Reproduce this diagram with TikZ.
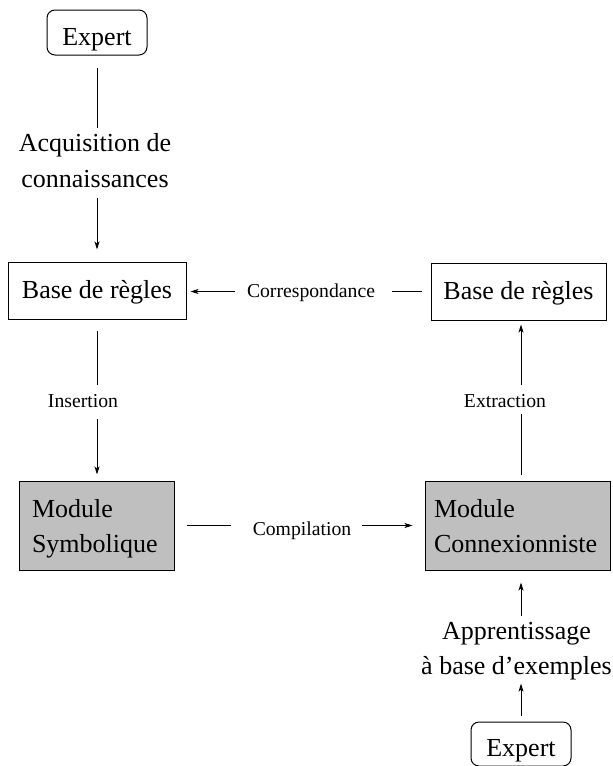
\documentclass[tikz,border=0pt]{standalone}
\usepackage{fontspec}
\setmainfont{Liberation Serif}
\usetikzlibrary{arrows.meta}
\begin{document}
\begin{tikzpicture}[x=1pt,y=-1pt,
  big/.style={font=\fontsize{26}{35.5}\selectfont},
  small/.style={font=\fontsize{19.7}{24}\selectfont, inner sep=0pt},
  box/.style={draw, line width=1pt, big, inner sep=0pt},
  rbox/.style={box, rounded corners=8pt, text height=25pt, text depth=0pt},
  bbox/.style={box, text height=21pt, text depth=5.6pt},
  mbox/.style={box, fill=gray!50, align=left},
  lab/.style={big, inner sep=0pt, align=center},
  conn/.style={line width=0.9pt},
  arr/.style={conn, -{Stealth[length=8pt,width=5pt,inset=2pt]}},
]
\useasboundingbox (0,0) rectangle (613,766);
% nodes
\node[rbox, minimum width=100pt, minimum height=45pt] (e1) at (97,32.5) {Expert};
\node[lab] (acq) at (95,160.5) {Acquisition de\\connaissances};
\node[bbox, minimum width=178pt, minimum height=57pt] (b1) at (97,290.5) {Base de règles};
\node[bbox, minimum width=175pt, minimum height=57pt] (b2) at (518.5,291.5) {Base de règles};
\node[small] (corr) at (311,292.4) {Correspondance};
\node[small] (ins) at (83,401.5) {Insertion};
\node[small] (ext) at (505,401.5) {Extraction};
\node[mbox, minimum width=155pt, minimum height=89pt, text width=129pt, inner xsep=13pt] (m1) at (96.5,525.5) {\rule{0pt}{24.4pt}Module\\Symbolique\rule[-5.6pt]{0pt}{5.6pt}};
\node[mbox, minimum width=185pt, minimum height=89pt, text width=167pt, inner xsep=9pt] (m2) at (517.5,525.5) {\rule{0pt}{24.4pt}Module\\Connexionniste\rule[-5.6pt]{0pt}{5.6pt}};
\node[small] (comp) at (302,530.4) {Compilation};
\node[lab] (app) at (516.5,651.3) {Apprentissage\\à base d’exemples};
\node[rbox, minimum width=100pt, minimum height=44pt] (e2) at (521,744) {Expert};
% connectors left column
\draw[conn, shorten <=12pt, shorten >=5pt] (e1.south) -- (e1.south |- acq.north);
\draw[arr, shorten <=10pt, shorten >=12pt] (e1.south |- acq.south) -- (b1.north);
\draw[conn, shorten <=11pt, shorten >=10pt] (b1.south) -- (b1.south |- ins.north);
\draw[arr, shorten <=11pt, shorten >=6pt] (b1.south |- ins.south) -- (b1.south |- m1.north);
% correspondance
\draw[conn, shorten <=9pt, shorten >=17pt] (b2.west) -- (b2.west -| corr.east);
\draw[arr, shorten <=12pt, shorten >=4pt] (b2.west -| corr.west) -- (b2.west -| b1.east);
% compilation
\draw[conn, shorten <=12pt, shorten >=22pt] (m1.east) -- (m1.east -| comp.west);
\draw[arr, shorten <=11pt, shorten >=12pt] (m1.east -| comp.east) -- (m1.east -| m2.west);
% right column
\draw[conn, shorten <=6pt, shorten >=6pt] (m2.north -| e2.north) -- (ext.south -| e2.north);
\draw[arr, shorten <=10pt, shorten >=4pt] (ext.north -| e2.north) -- (b2.south -| e2.north);
\draw[arr, shorten <=6pt, shorten >=3pt] (e2.north) -- (e2.north |- app.south);
\draw[arr, shorten <=6pt, shorten >=12pt] (app.north -| e2.north) -- (m2.south -| e2.north);
\end{tikzpicture}
\end{document}
